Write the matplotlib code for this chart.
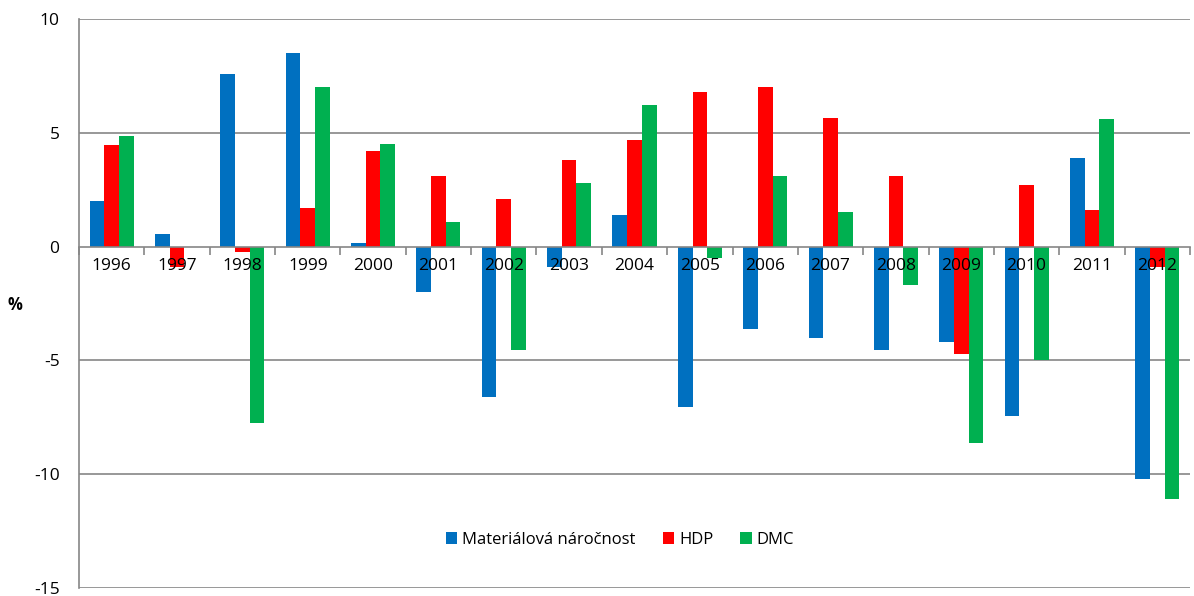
import numpy as np
import matplotlib.pyplot as plt

years = [str(y) for y in range(1996, 2013)]
narocnost = [2.0, 0.55, 7.6, 8.5, 0.17, -2.0, -6.6, -0.9, 1.4, -7.05, -3.6, -4.0, -4.55, -4.2, -7.45, 3.9, -10.2]
hdp = [4.45, -0.9, -0.22, 1.7, 4.2, 3.1, 2.1, 3.8, 4.7, 6.8, 7.0, 5.67, 3.1, -4.7, 2.7, 1.62, -0.9]
dmc = [4.85, 0.0, -7.75, 7.0, 4.5, 1.1, -4.55, 2.8, 6.2, -0.5, 3.1, 1.5, -1.7, -8.65, -5.0, 5.6, -11.1]

plt.rcParams['font.family'] = ['Open Sans', 'DejaVu Sans']

fig = plt.figure(figsize=(11.94, 5.96), dpi=100)
ax = fig.add_axes([79/1194, 8/596, 1111/1194, 569/596])

x = np.arange(len(years))
w = 0.225
ax.bar(x - w, narocnost, w, color='#0070C0', label='Materiálová náročnost')
ax.bar(x, hdp, w, color='#FF0000', label='HDP')
ax.bar(x + w, dmc, w, color='#00B050', label='DMC')

ax.set_xlim(-0.5, len(years) - 0.5)
ax.set_ylim(-15, 10)
ax.set_yticks([-15, -10, -5, 0, 5, 10])
ax.set_yticklabels(['-15', '-10', '-5', '0', '5', '10'])
for v in [-15, -10, -5, 5, 10]:
    ax.axhline(v, color='#868686', lw=1.2, zorder=0)

for s in ['top', 'right']:
    ax.spines[s].set_visible(False)
ax.spines['left'].set_color('#868686')
ax.spines['left'].set_linewidth(1.2)
ax.spines['bottom'].set_position(('data', 0))
ax.spines['bottom'].set_color('#868686')
ax.spines['bottom'].set_linewidth(1.2)
ax.spines['bottom'].set_zorder(3)

ax.set_xticks(x)
ax.set_xticklabels(years, fontsize=12.5)
ax.set_xticks(np.arange(len(years) + 1) - 0.5, minor=True)
ax.tick_params(axis='x', which='major', length=0, pad=8)
ax.tick_params(axis='x', which='minor', length=6, color='#868686', width=1.2)
ax.tick_params(axis='y', length=0, labelsize=12.5, pad=14)

fig.text(15/1194, 1 - 305/596, '%', fontsize=12, fontweight='bold', ha='center', va='center')

ax.legend(loc='center', bbox_to_anchor=(0.487, 0.085), ncol=3, frameon=False,
          fontsize=12, handlelength=0.7, handleheight=0.7, handletextpad=0.3, columnspacing=1.6)

fig.savefig('out.png', dpi=100)
